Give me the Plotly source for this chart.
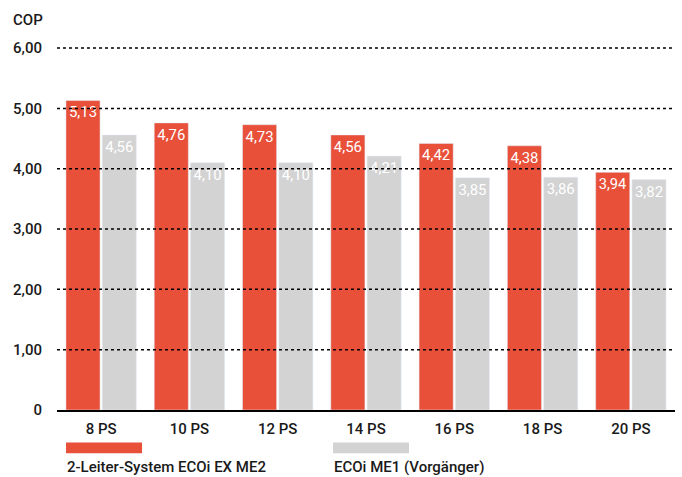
import plotly.graph_objects as go

categories = ["8 PS", "10 PS", "12 PS", "14 PS", "16 PS", "18 PS", "20 PS"]
series_new_name = "2-Leiter-System ECOi EX ME2"
series_old_name = "ECOi ME1 (Vorgänger)"
values_new = [5.13, 4.76, 4.73, 4.56, 4.42, 4.38, 3.94]
values_old = [4.56, 4.10, 4.10, 4.21, 3.85, 3.86, 3.82]
y_tickvals = [0, 1, 2, 3, 4, 5, 6]
y_ticktext = ["0", "1,00", "2,00", "3,00", "4,00", "5,00", "6,00"]

RED = "#E8503A"
GRAY = "#D3D3D3"
FONT = "Roboto"
TXT = "#1a1a1a"

def fmt(v):
    return f"{v:.2f}".replace(".", ",")

fig = go.Figure()
fig.add_bar(x=categories, y=values_new, name=series_new_name, marker_color=RED,
            text=[fmt(v) for v in values_new], textposition="inside",
            insidetextanchor="end", textangle=0,
            textfont=dict(color="white", size=15, family=FONT))
fig.add_bar(x=categories, y=values_old, name=series_old_name, marker_color=GRAY,
            text=[fmt(v) for v in values_old], textposition="inside",
            insidetextanchor="end", textangle=0,
            textfont=dict(color="white", size=15, family=FONT))

# dotted gridlines drawn above bars
for v in y_tickvals[1:]:
    fig.add_shape(type="line", xref="paper", x0=0, x1=1, yref="y", y0=v, y1=v,
                  line=dict(color="black", width=1.5, dash="dot"), layer="above")

# legend swatches and labels
legend_items = [(series_new_name, RED, 0.0146), (series_old_name, GRAY, 0.4466)]
for name, col, x0 in legend_items:
    fig.add_shape(type="rect", xref="paper", yref="paper", x0=x0, x1=x0 + 0.123,
                  y0=-0.0855, y1=-0.114, fillcolor=col, line_width=0)
    fig.add_annotation(text=name, xref="paper", yref="paper", x=x0 - 0.002, y=-0.151,
                       xanchor="left", yanchor="middle", showarrow=False,
                       font=dict(size=15, color=TXT, family=FONT, weight=500))

fig.add_annotation(text="COP", xref="paper", yref="paper", x=-0.0745, y=1.0276,
                   xanchor="left", yanchor="middle", showarrow=False,
                   font=dict(size=15, color=TXT, family=FONT, weight=500))

fig.update_layout(
    width=682, height=477,
    margin=dict(l=57, r=7, t=30, b=67),
    plot_bgcolor="white", paper_bgcolor="white",
    barmode="group", bargap=0.178, bargroupgap=0.06,
    showlegend=False,
    font=dict(family=FONT, size=15, color=TXT),
    uniformtext=dict(mode=False),
)
fig.update_yaxes(range=[0, 6.3], tickvals=y_tickvals, ticktext=y_ticktext,
                 showgrid=False, zeroline=False, showline=False,
                 ticks="", ticklabelstandoff=14,
                 tickfont=dict(size=15, family=FONT, color=TXT, weight=500))
fig.update_xaxes(showline=True, linecolor="black", linewidth=1.5,
                 showgrid=False, ticks="", ticklabelstandoff=4,
                 tickfont=dict(size=15, family=FONT, color=TXT, weight=500))

fig.write_html("out.html", config={"displayModeBar": False},
               post_script="document.body.style.margin='0';")
